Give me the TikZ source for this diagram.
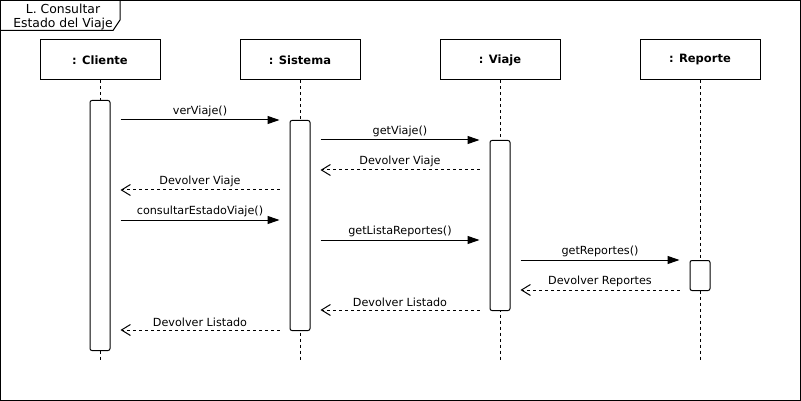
\documentclass[tikz,border=0pt]{standalone}
\usepackage{fontspec}
\setmainfont{DejaVu Sans}
\usetikzlibrary{arrows.meta,positioning}

\begin{document}
\begin{tikzpicture}[
    x=1pt,y=-1pt,line width=1pt,
    font=\fontsize{11.2}{13}\selectfont,
    head/.style={draw,minimum width=120pt,minimum height=40pt,inner sep=0pt,font=\fontsize{11.5}{13}\selectfont\bfseries},
    bar/.style={draw,fill=white,rounded corners=2pt,minimum width=20pt,inner sep=0pt,anchor=north},
    life/.style={dash pattern=on 3pt off 3pt},
    call/.style={-{Triangle[length=12pt,width=8pt]},shorten <=10pt,shorten >=10pt},
    ret/.style={-{Straight Barb[length=9pt,width=11pt]},dash pattern=on 3pt off 3pt,shorten <=10pt,shorten >=10pt},
    lbl/.style={midway,above,inner sep=2.5pt}
  ]
  \useasboundingbox (0,0) rectangle (801,401);
  \draw (0.5,0.5) rectangle (800.5,400.5);

  % title tab
  \draw (0.5,30.5) -- (113,30.5) -- (120,20) -- (120,0.5);
  \node[align=center,inner sep=0pt,font=\fontsize{12.4}{14}\selectfont] (title) at (63,17) {L. Consultar\\Estado del Viaje};

  % lifelines
  \node[head] (cli) at (100,60) {\raisebox{-1pt}{: Cliente}};
  \node[head] (sis) at (300,60) {\raisebox{-1pt}{: Sistema}};
  \node[head] (via) at (500,60) {\raisebox{-1pt}{: Viaje}};
  \node[head] (rep) at (700,60) {\raisebox{-1pt}{: Reporte}};
  \coordinate (cliEnd) at (100,360);
  \coordinate (sisEnd) at (300,360);
  \coordinate (viaEnd) at (500,360);
  \coordinate (repEnd) at (700,360);
  \draw[life] (cli) -- (cliEnd);
  \draw[life] (sis) -- (sisEnd);
  \draw[life] (via) -- (viaEnd);
  \draw[life] (rep) -- (repEnd);

  % activations
  \node[bar,minimum height=250pt] (cliAct) at (100,100) {};
  \node[bar,minimum height=210pt] (sisAct) at (300,120) {};
  \node[bar,minimum height=170pt] (viaAct) at (500,140) {};
  \node[bar,minimum height=30pt] (repAct) at (700,260) {};

  % messages
  \draw[call] (cliAct.east |- 0,120) -- node[lbl]{verViaje()} (sisAct.west |- 0,120);
  \draw[call] (sisAct.east |- 0,140) -- node[lbl]{getViaje()} (viaAct.west |- 0,140);
  \draw[ret] (viaAct.west |- 0,170) -- node[lbl]{Devolver Viaje} (sisAct.east |- 0,170);
  \draw[ret] (sisAct.west |- 0,190) -- node[lbl]{Devolver Viaje} (cliAct.east |- 0,190);
  \draw[call] (cliAct.east |- 0,220) -- node[lbl]{consultarEstadoViaje()} (sisAct.west |- 0,220);
  \draw[call] (sisAct.east |- 0,240) -- node[lbl]{getListaReportes()} (viaAct.west |- 0,240);
  \draw[call] (viaAct.east |- 0,260) -- node[lbl]{getReportes()} (repAct.west |- 0,260);
  \draw[ret] (repAct.west |- 0,290) -- node[lbl]{Devolver Reportes} (viaAct.east |- 0,290);
  \draw[ret] (viaAct.west |- 0,310) -- node[lbl]{Devolver Listado} (sisAct.east |- 0,310);
  \draw[ret] (sisAct.west |- 0,330) -- node[lbl]{Devolver Listado} (cliAct.east |- 0,330);
\end{tikzpicture}
\end{document}
